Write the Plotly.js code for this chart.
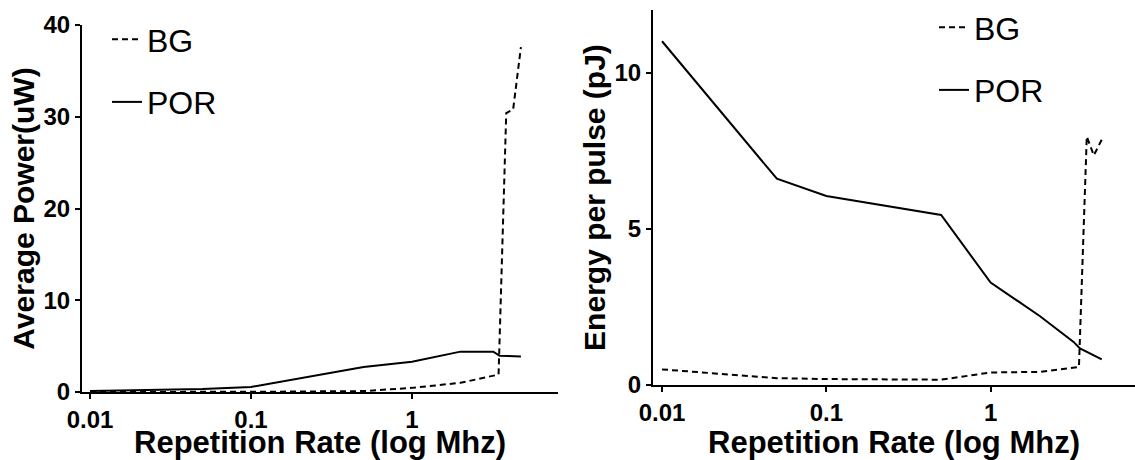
<!DOCTYPE html>
<html><head><meta charset="utf-8">
<script src="https://cdn.plot.ly/plotly-3.0.1.min.js"></script>
<style>html,body{margin:0;padding:0;background:#fff}#chart{width:1135px;height:460px}</style>
</head><body><div id="chart"></div>
<script>
// Data
const xTickVals = [0.01, 0.1, 1];
const xTickText = ["0.01", "0.1", "1"];
const leftYTicks = [0, 10, 20, 30, 40];
const rightYTicks = [0, 5, 10];

const porRate   = [0.01, 0.05, 0.1, 0.5, 1, 2, 3.2, 3.5, 4.75];
const porPower  = [0.11, 0.33, 0.55, 2.72, 3.3, 4.4, 4.4, 3.95, 3.88];
const porEnergy = [11.0, 6.6, 6.05, 5.44, 3.28, 2.2, 1.38, 1.17, 0.82];

const bgRate    = [0.01, 0.05, 0.1, 0.5, 1, 2, 3.45, 3.85, 4.25, 4.75];
const bgPower   = [0.005, 0.01, 0.02, 0.1, 0.45, 1.0, 1.9, 30.4, 30.8, 37.6];
const bgEnergy  = [0.5, 0.22, 0.19, 0.17, 0.4, 0.42, 0.58, 7.95, 7.35, 7.85];

const FAM = 'Liberation Sans, Arial, sans-serif';
const W = 1135, H = 460;

const solid = {color: '#000', width: 2};
const dashed = {color: '#000', width: 2, dash: '6px,4px'};

const traces = [
  {x: bgRate, y: bgPower, type: 'scatter', mode: 'lines', name: 'BG', line: dashed,
   xaxis: 'x', yaxis: 'y', legend: 'legend', legendgroup: 'bg1'},
  {x: porRate, y: porPower, type: 'scatter', mode: 'lines', name: 'POR', line: solid,
   xaxis: 'x', yaxis: 'y', legend: 'legend', legendgroup: 'por1'},
  {x: bgRate, y: bgEnergy, type: 'scatter', mode: 'lines', name: 'BG', line: dashed,
   xaxis: 'x2', yaxis: 'y2', legend: 'legend2', legendgroup: 'bg2'},
  {x: porRate, y: porEnergy, type: 'scatter', mode: 'lines', name: 'POR', line: solid,
   xaxis: 'x2', yaxis: 'y2', legend: 'legend2', legendgroup: 'por2'}
];

const tickFont = {family: FAM, size: 24, color: '#000', weight: 'bold'};
const titleFont = {family: FAM, size: 31, color: '#000', weight: 'bold'};
const yTitleFont = {family: FAM, size: 30, color: '#000', weight: 'bold'};
const axisBase = {
  showgrid: false, zeroline: false, showline: true, linecolor: '#000', linewidth: 2,
  ticks: 'outside', ticklen: 5, tickwidth: 2, tickcolor: '#000', tickfont: tickFont,
  fixedrange: true
};

const legendBase = {
  font: {family: FAM, size: 32, color: '#000'}, bgcolor: 'rgba(0,0,0,0)',
  traceorder: 'grouped', tracegroupgap: 18, itemwidth: 30, xanchor: 'left', yanchor: 'top'
};

const layout = {
  width: W, height: H, margin: {l: 0, r: 0, t: 0, b: 0},
  paper_bgcolor: '#fff', plot_bgcolor: '#fff', showlegend: true,
  xaxis: Object.assign({}, axisBase, {
    type: 'log', domain: [82 / W, 558 / W], range: [-2.05, 0.907], anchor: 'y',
    tickvals: xTickVals, ticktext: xTickText,
    title: {text: 'Repetition Rate (log Mhz)', font: titleFont, standoff: 3}
  }),
  yaxis: Object.assign({}, axisBase, {
    domain: [1 - 392 / H, 1 - 25 / H], range: [0, 40], anchor: 'x',
    tickvals: leftYTicks,
    title: {text: 'Average Power(uW)', font: yTitleFont, standoff: 0}
  }),
  xaxis2: Object.assign({}, axisBase, {
    type: 'log', domain: [653 / W, 1], range: [-2.055, 0.879], anchor: 'y2',
    tickvals: xTickVals, ticktext: xTickText,
    title: {text: 'Repetition Rate (log Mhz)', font: titleFont, standoff: 3}
  }),
  yaxis2: Object.assign({}, axisBase, {
    domain: [1 - 385 / H, 1 - 10 / H], range: [0, 12], anchor: 'x2',
    tickvals: rightYTicks,
    title: {text: 'Energy per pulse (pJ)', font: yTitleFont, standoff: 0}
  }),
  legend: Object.assign({}, legendBase, {x: 107 / W, y: 1 - 12 / H}),
  legend2: Object.assign({}, legendBase, {x: 934 / W, y: 1 - 0 / H})
};

Plotly.newPlot('chart', traces, layout, {staticPlot: true, displayModeBar: false});
</script>
</body></html>
